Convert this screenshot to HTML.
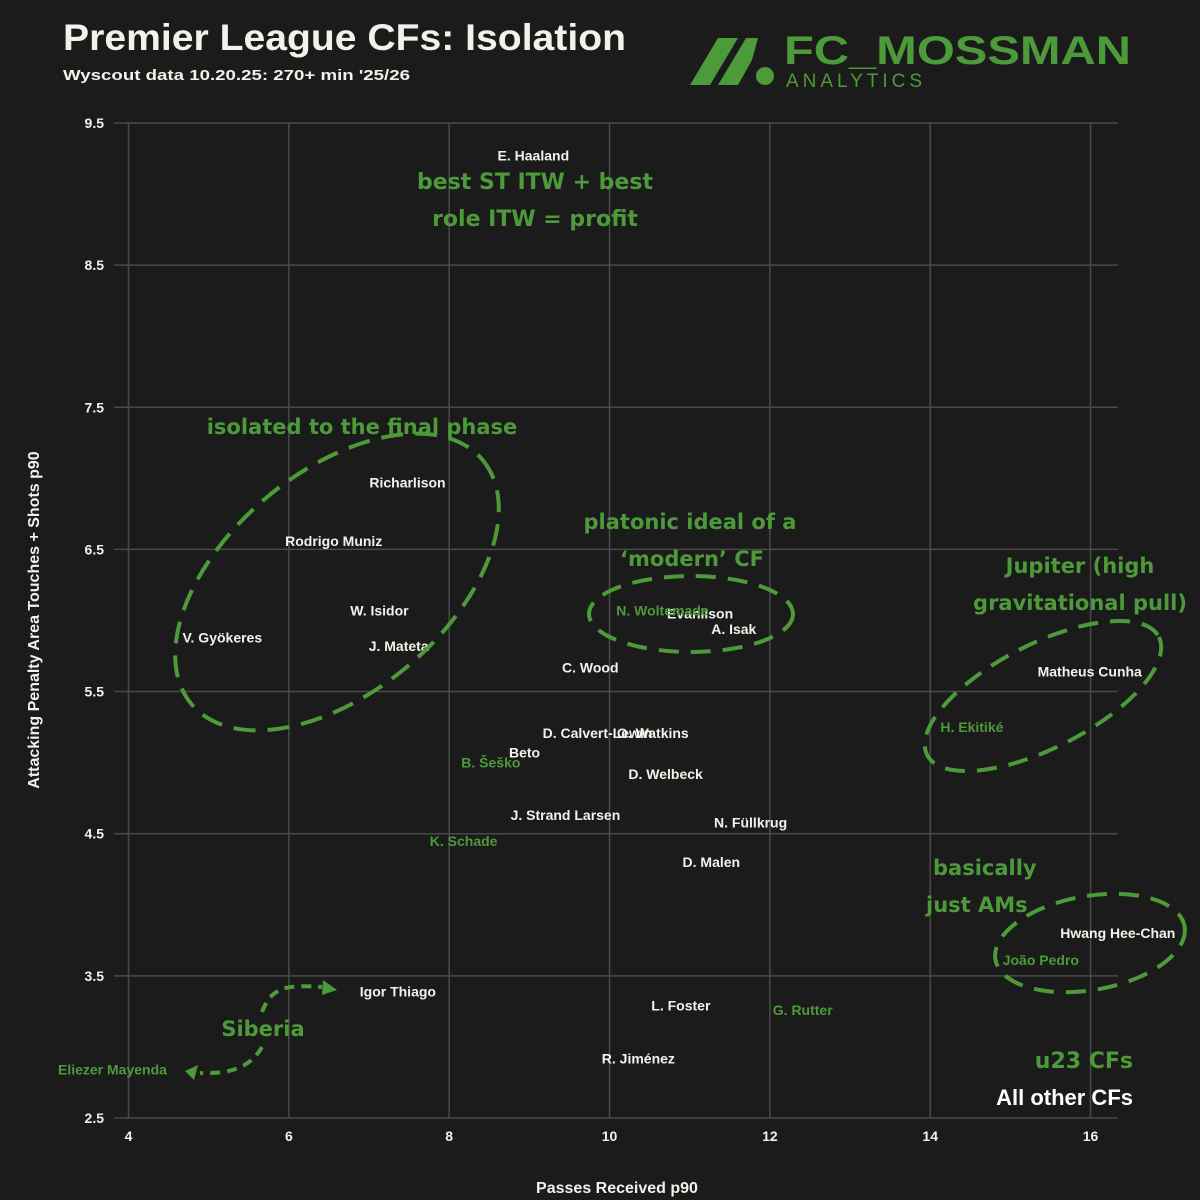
<!DOCTYPE html>
<html><head><meta charset="utf-8">
<style>
html,body{margin:0;padding:0;background:#1b1b1b;}
svg{display:block;}
text{font-family:"Liberation Sans",Arial,sans-serif;}
.hand{font-family:"DejaVu Sans","Liberation Sans",sans-serif;font-weight:bold;fill:#4d9a3a;}
</style></head>
<body>
<svg id="chart" width="1200" height="1200" viewBox="0 0 1200 1200">
<rect width="1200" height="1200" fill="#1b1b1b"/>
<text x="63" y="50" font-size="37" font-weight="bold" fill="#f2f2ea" textLength="563" lengthAdjust="spacingAndGlyphs">Premier League CFs: Isolation</text>
<text x="63" y="80" font-size="15" font-weight="bold" fill="#f2f2ea" textLength="347" lengthAdjust="spacingAndGlyphs">Wyscout data 10.20.25: 270+ min '25/26</text>
<g>
<polygon points="690,85 718,38 738,38 710,85" fill="#4d9a3a"/>
<polygon points="718,85 746,38 758,38 752,60 738,85" fill="#4d9a3a"/>
<circle cx="765" cy="76" r="9" fill="#4d9a3a"/>
<text x="784" y="64" font-size="40" font-weight="bold" fill="#4d9a3a" textLength="347" lengthAdjust="spacingAndGlyphs">FC_MOSSMAN</text>
<text x="786" y="87" font-size="19" fill="#4d9a3a" textLength="136" lengthAdjust="spacing">ANALYTICS</text>
</g>
<g id="grid"></g>
<g id="labels"></g>
<g id="annot"></g>
<text transform="translate(39,620) rotate(-90)" text-anchor="middle" font-size="16" font-weight="bold" fill="#f2f2ea">Attacking Penalty Area Touches + Shots p90</text>
<text x="617" y="1193" text-anchor="middle" font-size="16" font-weight="bold" fill="#f2f2ea">Passes Received p90</text>
</svg>
<script>
const xTicks=[4,6,8,10,12,14,16];
const yTicks=[2.5,3.5,4.5,5.5,6.5,7.5,8.5,9.5];
const names=["E. Haaland","Richarlison","Rodrigo Muniz","W. Isidor","V. Gyökeres","J. Mateta","Evanilson","A. Isak","C. Wood","D. Calvert-Lewin","O. Watkins","Beto","D. Welbeck","J. Strand Larsen","N. Füllkrug","D. Malen","Matheus Cunha","Hwang Hee-Chan","Igor Thiago","L. Foster","R. Jiménez"];
const xVals=[9.05,7.48,6.56,7.13,5.17,7.37,11.13,11.55,9.76,9.85,10.54,8.94,10.70,9.45,11.76,11.27,15.99,16.34,7.36,10.89,10.36];
const yVals=[9.27,6.97,6.56,6.07,5.88,5.82,6.05,5.94,5.67,5.21,5.21,5.07,4.92,4.63,4.58,4.30,5.64,3.80,3.39,3.29,2.92];
const u23Names=["N. Woltemade","B. Šeško","K. Schade","H. Ekitiké","João Pedro","G. Rutter","Eliezer Mayenda"];
const u23X=[10.66,8.52,8.18,14.52,15.38,12.41,3.80];
const u23Y=[6.07,5.0,4.45,5.25,3.61,3.26,2.84];

const NS="http://www.w3.org/2000/svg";
const X0=128.5,XS=80.17,Y0=123,YS=142.14;
function sx(v){return X0+(v-4)*XS;}
function sy(v){return Y0+(9.5-v)*YS;}
function mk(tag,attrs,parent){const e=document.createElementNS(NS,tag);for(const k in attrs)e.setAttribute(k,attrs[k]);parent.appendChild(e);return e;}
const grid=document.getElementById('grid');
xTicks.forEach(t=>{
  const l=mk('line',{x1:sx(t),x2:sx(t),y1:Y0,y2:1118,stroke:'#4a4a4a','stroke-width':1.5},grid);
  
  
  const tx=mk('text',{x:sx(t),y:1141,'text-anchor':'middle','font-size':14,'font-weight':'bold',fill:'#f2f2ea'},grid);
  tx.textContent=t;
  
  
});
yTicks.forEach(t=>{
  const l=mk('line',{x1:114,x2:1118,y1:sy(t),y2:sy(t),stroke:'#4a4a4a','stroke-width':1.5},grid);
  
  
  const tx=mk('text',{x:104,y:sy(t)+5,'text-anchor':'end','font-size':14,'font-weight':'bold',fill:'#f2f2ea'},grid);
  tx.textContent=t.toFixed(1);
  
  
});
const lab=document.getElementById('labels');
names.forEach((n,i)=>{
  const t=mk('text',{x:sx(xVals[i]),y:sy(yVals[i])+5,'text-anchor':'middle','font-size':14,'font-weight':'bold',fill:'#f2f2ea'},lab);
  t.textContent=n;
  
  
});
u23Names.forEach((n,i)=>{
  const t=mk('text',{x:sx(u23X[i]),y:sy(u23Y[i])+5,'text-anchor':'middle','font-size':14,'font-weight':'bold',fill:'#4d9a3a'},lab);
  t.textContent=n;
  
  
});
</script>
<script>
(function(){
const a=document.getElementById('annot');
a.innerHTML=`
<ellipse cx="337" cy="582" rx="190" ry="110" transform="rotate(-40 337 582)" fill="none" stroke="#4d9a3a" stroke-width="4" stroke-dasharray="22 12"/>
<ellipse cx="691" cy="614" rx="102" ry="38" fill="none" stroke="#4d9a3a" stroke-width="4" stroke-dasharray="20 12"/>
<ellipse cx="1043" cy="696" rx="130" ry="52" transform="rotate(-27 1043 696)" fill="none" stroke="#4d9a3a" stroke-width="4" stroke-dasharray="20 12"/>
<ellipse cx="1090" cy="943" rx="96" ry="47" transform="rotate(-10 1090 943)" fill="none" stroke="#4d9a3a" stroke-width="4" stroke-dasharray="20 12"/>
<path d="M262,1012 C272,985 290,985 322,987" fill="none" stroke="#4d9a3a" stroke-width="4" stroke-dasharray="10 7"/>
<polygon points="323,980 337,990 322,995" fill="#4d9a3a"/>
<path d="M262,1047 C250,1068 230,1074 200,1073" fill="none" stroke="#4d9a3a" stroke-width="4" stroke-dasharray="10 7"/>
<polygon points="198,1065 185,1071 194,1080" fill="#4d9a3a"/>
<text class="hand" x="535" y="189" font-size="22" text-anchor="middle">best ST ITW + best</text>
<text class="hand" x="535" y="226" font-size="22" text-anchor="middle">role ITW = profit</text>
<text class="hand" x="362" y="434" font-size="21" text-anchor="middle">isolated to the final phase</text>
<text class="hand" x="690" y="529" font-size="21" text-anchor="middle">platonic ideal of a</text>
<text class="hand" x="692" y="566" font-size="21" text-anchor="middle">‘modern’ CF</text>
<text class="hand" x="1080" y="573" font-size="21" text-anchor="middle">Jupiter (high</text>
<text class="hand" x="1080" y="610" font-size="21" text-anchor="middle">gravitational pull)</text>
<text class="hand" x="933" y="875" font-size="21">basically</text>
<text class="hand" x="926" y="912" font-size="21">just AMs</text>
<text class="hand" x="263" y="1036" font-size="21" text-anchor="middle">Siberia</text>
<text class="hand" x="1133" y="1068" font-size="22" text-anchor="end">u23 CFs</text>
<text x="1133" y="1105" font-size="22" font-weight="bold" text-anchor="end" fill="#ffffff" font-family="DejaVu Sans,sans-serif">All other CFs</text>
`;
})();
</script>
</body></html>
